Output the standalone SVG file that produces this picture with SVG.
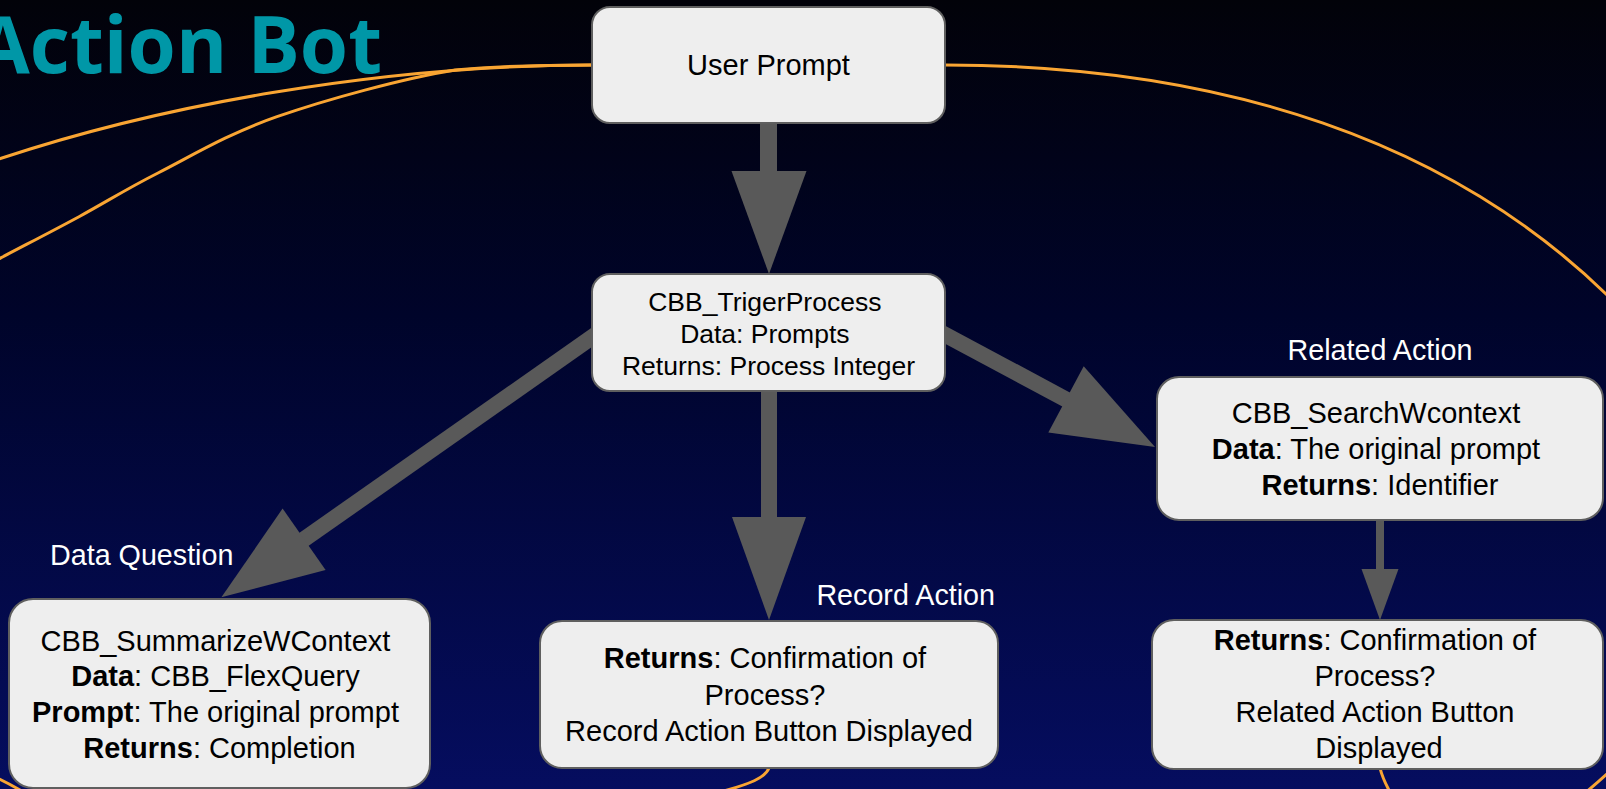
<svg xmlns="http://www.w3.org/2000/svg" width="1606" height="789" viewBox="0 0 1606 789">
  <defs>
    <linearGradient id="bg" x1="0" y1="0" x2="0" y2="1">
      <stop offset="0" stop-color="#020209"/>
      <stop offset="0.4" stop-color="#00042a"/>
      <stop offset="1" stop-color="#050d5f"/>
    </linearGradient>
    <style>
      .box { fill: #eeeeee; stroke: #5f5f5f; stroke-width: 2; }
      .t { font-family: "Liberation Sans", Arial, sans-serif; fill: #000000; text-anchor: middle; }
      .lbl { font-family: "Liberation Sans", Arial, sans-serif; fill: #ffffff; font-size: 28.7px; }
      .orb { fill: none; stroke: #f9a533; stroke-width: 3; }
      .shaft { stroke: #595959; fill: none; }
      .head { fill: #595959; stroke: none; }
      .title { font-family: "Open Sans", "Lato", sans-serif; font-weight: 700; fill: #0097a7; }
      .b { font-weight: 700; }
    </style>
  </defs>
  <rect x="0" y="0" width="1606" height="789" fill="url(#bg)"/>

  <text class="title" x="382" y="73" font-size="78" text-anchor="end">Action Bot</text>

  <g id="orbits">
    <path class="orb" d="M945,65 C1200,65 1465,130 1645,335"/>
    <path class="orb" d="M592,65 C400,65 150,100 -60,180"/>
    <path class="orb" d="M592,65 C547,65 500,66 455,70 C402.5,78.6 326.5,99.5 277,116.7 C227.5,133.9 191,156.3 158,173 C125,189.7 105.3,202.5 79,216.7 C52.7,230.9 19.8,247.8 0,258.3 C-19.8,268.8 -35,277 -40,280"/>
    <path class="orb" d="M769,768 C765,778 750,784 720,792"/>
    <path class="orb" d="M1380,768 C1382,776 1385,783 1390,792"/>
    <path class="orb" d="M1585,793 Q1597,783 1610,771"/>
    <path class="orb" d="M-5,777 Q10,784 25,793"/>
  </g>

  <g id="connectors">
    <line class="shaft" x1="768.5" y1="123" x2="768.5" y2="172" stroke-width="17"/>
    <polygon class="head" points="731.5,171 806.5,171 769,274"/>
    <line class="shaft" x1="769" y1="390" x2="769" y2="518" stroke-width="16"/>
    <polygon class="head" points="732,517 806,517 769,620"/>
    <line class="shaft" x1="599" y1="332.3" x2="303" y2="540" stroke-width="16"/>
    <polygon class="head" points="325.6,570 282.6,508.6 221.4,597.3"/>
    <line class="shaft" x1="940" y1="332" x2="1067" y2="400" stroke-width="16"/>
    <polygon class="head" points="1048.3,432.4 1083.7,366.2 1155,447"/>
    <line class="shaft" x1="1380" y1="520" x2="1380" y2="570" stroke-width="8"/>
    <polygon class="head" points="1361.5,569 1398.5,569 1380,620"/>
  </g>

  <g id="node-user-prompt">
    <rect class="box" x="592" y="7" width="353" height="116" rx="18"/>
    <text class="t" x="768.5" y="75" font-size="29">User Prompt</text>
  </g>

  <g id="node-trigger">
    <rect class="box" x="592" y="274" width="353" height="117" rx="18"/>
    <text class="t" font-size="26.5">
      <tspan x="768.5" y="311">CBB_TrigerProcess</tspan>
      <tspan x="768.5" y="343">Data: Prompts</tspan>
      <tspan x="768.5" y="375">Returns: Process Integer</tspan>
    </text>
  </g>

  <g id="node-search">
    <text class="lbl" x="1380" y="360" text-anchor="middle">Related Action</text>
    <rect class="box" x="1157" y="377" width="446" height="143" rx="22"/>
    <text class="t" font-size="29">
      <tspan x="1380" y="423">CBB_SearchWcontext</tspan>
      <tspan x="1380" y="459"><tspan class="b">Data</tspan>: The original prompt</tspan>
      <tspan x="1380" y="495"><tspan class="b">Returns</tspan>: Identifier</tspan>
    </text>
  </g>

  <g id="node-related-result">
    <rect class="box" x="1152" y="620" width="451" height="149" rx="22"/>
    <text class="t" font-size="29">
      <tspan x="1379" y="650"><tspan class="b">Returns</tspan>: Confirmation of</tspan>
      <tspan x="1379" y="686">Process?</tspan>
      <tspan x="1379" y="722">Related Action Button</tspan>
      <tspan x="1379" y="758">Displayed</tspan>
    </text>
  </g>

  <g id="node-record">
    <text class="lbl" x="995" y="605" text-anchor="end">Record Action</text>
    <rect class="box" x="540" y="621" width="458" height="147" rx="22"/>
    <text class="t" font-size="29">
      <tspan x="769" y="668"><tspan class="b">Returns</tspan>: Confirmation of</tspan>
      <tspan x="769" y="705">Process?</tspan>
      <tspan x="769" y="741">Record Action Button Displayed</tspan>
    </text>
  </g>

  <g id="node-summarize">
    <text class="lbl" x="50" y="565">Data Question</text>
    <rect class="box" x="9" y="599" width="421" height="189" rx="24"/>
    <text class="t" font-size="29">
      <tspan x="219.5" y="651">CBB_SummarizeWContext</tspan>
      <tspan x="219.5" y="686"><tspan class="b">Data</tspan>: CBB_FlexQuery</tspan>
      <tspan x="219.5" y="722"><tspan class="b">Prompt</tspan>: The original prompt</tspan>
      <tspan x="219.5" y="758"><tspan class="b">Returns</tspan>: Completion</tspan>
    </text>
  </g>
</svg>
